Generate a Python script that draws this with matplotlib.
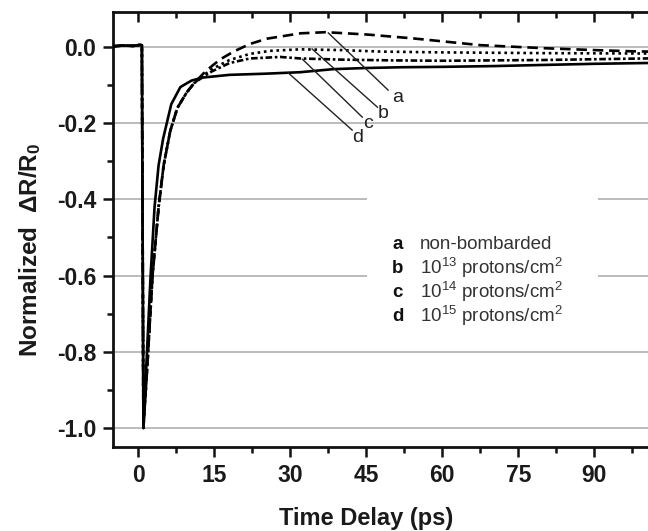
import numpy as np
import matplotlib
matplotlib.use("Agg")
import matplotlib.pyplot as plt
from matplotlib.patches import Rectangle

plt.rcParams['font.family'] = ['Liberation Sans', 'DejaVu Sans']

# shared pre-pulse baseline and fast drop (ps, normalized dR/R0)
t_pre = [-5, -3, -1, 0.5, 0.7, 1.0]
v_pre = [0.002, 0.004, 0.003, 0.006, 0.005, -1.0]

# recovery, curve d (solid)
t_d = [1.6, 2.4, 3.2, 4.0, 4.9, 6.5, 8.3, 10.5, 12.8, 18, 25, 32, 38.5, 45, 52, 60, 70, 80, 90, 105]
v_d = [-0.83, -0.605, -0.42, -0.31, -0.24, -0.15, -0.105, -0.088, -0.08, -0.073, -0.07, -0.066,
       -0.058, -0.055, -0.053, -0.052, -0.05, -0.047, -0.044, -0.041]

# early recovery shared by a, b, c
t_abc = [1.8, 2.8, 4.0, 5.0, 6.3, 7.7, 9.5, 11]
v_abc = [-0.83, -0.6, -0.42, -0.31, -0.22, -0.16, -0.12, -0.095]

t_a = [12.8, 14.5, 16.2, 18.8, 22, 25.4, 32, 37, 45, 54, 60, 67.5, 80, 90, 97, 105]
v_a = [-0.07, -0.05, -0.032, -0.012, 0.008, 0.022, 0.036, 0.039, 0.033, 0.023, 0.015, 0.005,
       -0.003, -0.008, -0.011, -0.013]

t_b = [12.8, 14.5, 18, 22, 26, 32, 40, 48, 60, 80, 100, 105]
v_b = [-0.075, -0.058, -0.034, -0.018, -0.01, -0.006, -0.008, -0.012, -0.014, -0.016, -0.017, -0.018]

t_c = [12.8, 14.5, 18, 22, 28, 32, 40, 50, 60, 80, 100, 105]
v_c = [-0.078, -0.064, -0.042, -0.03, -0.026, -0.03, -0.033, -0.035, -0.036, -0.034, -0.03, -0.029]

labels = ['a', 'b', 'c', 'd']
legend_text = ['non-bombarded',
               r'10$\mathregular{^{13}}$ protons/cm$\mathregular{^2}$',
               r'10$\mathregular{^{14}}$ protons/cm$\mathregular{^2}$',
               r'10$\mathregular{^{15}}$ protons/cm$\mathregular{^2}$']

# pointer lines: start on curve, end near letter
ptr_start = [(37.5, 0.037), (34.3, -0.005), (32.4, -0.032), (29.6, -0.068)]
ptr_end = [(49.3, -0.113), (47.2, -0.158), (44.2, -0.184), (42.2, -0.218)]
lbl_pos = [(51.1, -0.132), (48.4, -0.174), (45.4, -0.2), (43.2, -0.237)]

fig = plt.figure(figsize=(6.48, 5.31), dpi=100)
ax = fig.add_axes([0.1744, 0.1582, 0.86, 0.8192])

ax.set_xlim(-5, 105)
ax.set_ylim(-1.05, 0.092)

yt = np.round(np.arange(-1.0, 0.01, 0.2), 1) + 0.0
for y in yt:
    ax.axhline(y, color='#b5b5b5', lw=1.3, zorder=0)
# blank area behind the key
ax.add_patch(Rectangle((45.2, -0.76), 45.6, 0.38, facecolor='white', edgecolor='none', zorder=1))

lw = 1.9
ax.plot(t_pre + t_abc + t_a, v_pre + v_abc + v_a, color='black', lw=lw, ls=(0, (4, 2.2)), zorder=3)
ax.plot(t_pre + t_abc + t_b, v_pre + v_abc + v_b, color='black', lw=lw, ls=(0, (1, 1.4)), zorder=3)
ax.plot(t_pre + t_abc + t_c, v_pre + v_abc + v_c, color='black', lw=lw, ls=(0, (2.5, 1, 1, 1)), zorder=3)
ax.plot(t_pre + t_d, v_pre + v_d, color='black', lw=lw, ls='-', zorder=4)

for s, e, p, l in zip(ptr_start, ptr_end, lbl_pos, labels):
    ax.plot([s[0], e[0]], [s[1], e[1]], color='#222222', lw=1.0, zorder=5)
    ax.text(p[0], p[1], l, fontsize=14, color='#222222', ha='center', va='center', zorder=5)

key_y = [-0.518, -0.581, -0.644, -0.707]
for y, l, txt in zip(key_y, labels, legend_text):
    ax.text(50.1, y, l, fontsize=13.5, fontweight='bold', color='#111111', ha='left', va='center', zorder=5)
    ax.text(55.5, y, txt, fontsize=13.5, color='#333333', ha='left', va='center', zorder=5)

ax.set_xticks(np.arange(0, 91, 15))
ax.set_xticks(np.arange(7.5, 106, 15), minor=True)
ax.set_yticks(yt)
ax.set_yticks(np.arange(-0.9, 0.09, 0.2), minor=True)
ax.set_yticklabels(['%.1f' % v for v in yt])

ax.tick_params(axis='both', which='both', direction='out', width=1.8, colors='#111111')
ax.tick_params(axis='both', which='major', length=7, labelsize=16.5, pad=5)
ax.tick_params(axis='both', which='minor', length=4)
ax.tick_params(axis='x', which='both', top=True, labeltop=False)
for lab in ax.get_xticklabels() + ax.get_yticklabels():
    lab.set_fontweight('bold')
    lab.set_color('#1a1a1a')

# top ticks point inward
for tk in ax.xaxis.get_major_ticks() + ax.xaxis.get_minor_ticks():
    tk.tick2line.set_marker(3)

for sp in ax.spines.values():
    sp.set_linewidth(2.0)
    sp.set_color('#111111')

ax.set_xlabel('Time Delay (ps)', fontsize=17, fontweight='bold', color='#1a1a1a')
ax.xaxis.set_label_coords(0.4545, -0.138)
ax.set_ylabel(r'Normalized  ΔR/R$\mathregular{_0}$', fontsize=17.5, fontweight='bold', color='#1a1a1a')
ax.yaxis.set_label_coords(-0.126, 0.453)

fig.savefig('out.png', dpi=100)
